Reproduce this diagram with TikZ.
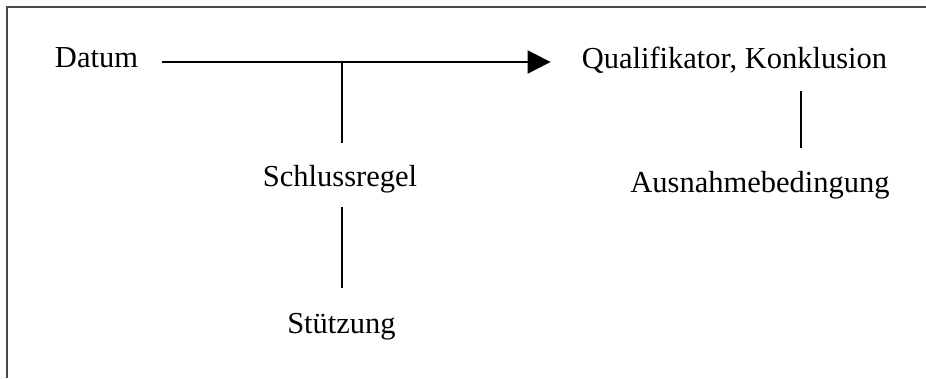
\documentclass[tikz,border=0pt]{standalone}
\usepackage{fontspec}
\setmainfont{Liberation Serif}
\usetikzlibrary{arrows.meta,calc}
\definecolor{framegray}{HTML}{4A4A4A}
\tikzset{
  lbl/.style={anchor=base, inner sep=0pt, font=\fontsize{30.5}{36}\selectfont},
  conn/.style={line width=2pt, black},
  arr/.style={conn, -{Triangle[length=23pt,width=23pt]}},
  framel/.style={line width=1.6pt, framegray}
}
\begin{document}
\begin{tikzpicture}[x=1pt,y=-1pt]
\useasboundingbox (0,0) rectangle (926,378);
\fill[white] (0,0) rectangle (926,378);
% frame (top and left only)
\coordinate (fl) at (7,378);
\coordinate (fc) at (7,7);
\coordinate (fr) at (926,7);
\draw[framel] (fl) -- (fc) -- (fr);
% labels
\node[lbl] (datum) at (96.5,67) {Datum};
\node[lbl] (qual) at (734.5,68) {Qualifikator, Konklusion};
\node[lbl] (regel) at (340,186) {Schlussregel};
\node[lbl] (stuetz) at (341.5,333) {Stützung};
\node[lbl] (ausn) at (760,192) {Ausnahmebedingung};
% main arrow
\coordinate (astart) at ($(datum.base east)+(24,-5)$);
\coordinate (aend) at ($(qual.base west)+(-31,-6)$);
\draw[arr] (astart) -- (aend);
% T junction down to Schlussregel
\coordinate (j) at ($(regel.base)+(2,-124)$);
\draw[conn] (j) -- ($(regel.base)+(2,-43)$);
% Schlussregel to Stuetzung
\draw[conn] ($(regel.base)+(2,21)$) -- ($(stuetz.base)+(0.5,-45)$);
% Konklusion to Ausnahmebedingung
\draw[conn] ($(qual.base)+(66.5,23)$) -- ($(ausn.base)+(41,-44)$);
\end{tikzpicture}
\end{document}
